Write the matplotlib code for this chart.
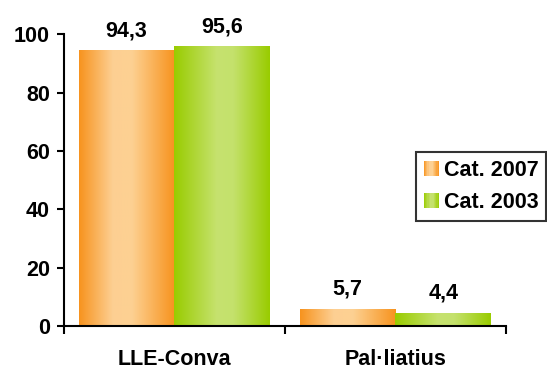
import numpy as np
import matplotlib
matplotlib.use("Agg")
import matplotlib.pyplot as plt
from matplotlib.colors import LinearSegmentedColormap
from matplotlib.legend_handler import HandlerBase
from matplotlib.patches import Rectangle

categories = ["LLE-Conva", "Pal·liatius"]
series_names = ["Cat. 2007", "Cat. 2003"]
cat2007 = [94.3, 5.7]
cat2003 = [95.6, 4.4]
value_labels_2007 = ["94,3", "5,7"]
value_labels_2003 = ["95,6", "4,4"]
yticks = [0, 20, 40, 60, 80, 100]

plt.rcParams['font.family'] = ['Liberation Sans', 'DejaVu Sans']
plt.rcParams['font.weight'] = 'bold'

orange_cmap = LinearSegmentedColormap.from_list(
    "og", [(0, "#F7931E"), (0.35, "#FDCF92"), (0.55, "#FDD193"), (1, "#F7931E")])
green_cmap = LinearSegmentedColormap.from_list(
    "gg", [(0, "#99CC00"), (0.45, "#C6E26F"), (0.62, "#C4E16C"), (1, "#99CC00")])

FS = 15.5

fig = plt.figure(figsize=(5.47, 3.71), dpi=100)
ax = fig.add_axes([0.117, 0.121, 0.808, 0.787])

x = np.arange(len(categories))
w = 0.434
b1 = ax.bar(x - w / 2, cat2007, w, color="none", edgecolor="none")
b2 = ax.bar(x + w / 2, cat2003, w, color="none", edgecolor="none")

grad = np.linspace(0, 1, 256).reshape(1, -1)
for bars, cmap in ((b1, orange_cmap), (b2, green_cmap)):
    for bar in bars:
        bx, by = bar.get_x(), bar.get_y()
        bw, bh = bar.get_width(), bar.get_height()
        ax.imshow(grad, cmap=cmap, extent=[bx, bx + bw, by, by + bh],
                  aspect="auto", zorder=2, interpolation="bilinear")

for bars, labels in ((b1, value_labels_2007), (b2, value_labels_2003)):
    for bar, lab in zip(bars, labels):
        ax.annotate(lab, (bar.get_x() + bar.get_width() / 2, bar.get_height()),
                    xytext=(0, 14.4), textcoords="offset points",
                    ha="center", va="center", fontsize=FS, fontweight="bold",
                    annotation_clip=False)

ax.set_xlim(-0.5, len(categories) - 0.5)
ax.set_ylim(0, 100)
ax.set_yticks(yticks)
ax.set_yticklabels([str(t) for t in yticks], fontsize=FS, fontweight="bold")
ax.set_xticks(np.arange(len(categories) + 1) - 0.5)
ax.set_xticklabels([])
ax.set_xticks(x, minor=True)
ax.set_xticklabels(categories, minor=True, fontsize=FS, fontweight="bold")
ax.tick_params(axis="x", which="minor", length=0, pad=16.5)
ax.tick_params(axis="x", which="major", length=6, width=1.5, direction="out")
ax.tick_params(axis="y", length=5, width=1.5, direction="out", pad=5)
for s in ("top", "right"):
    ax.spines[s].set_visible(False)
for s in ("left", "bottom"):
    ax.spines[s].set_linewidth(1.5)
    ax.spines[s].set_zorder(5)


class GradHandler(HandlerBase):
    def __init__(self, cmap):
        super().__init__()
        self.cmap = cmap

    def create_artists(self, legend, orig_handle, xdescent, ydescent,
                       width, height, fontsize, trans):
        n = 12
        arts = []
        for i in range(n):
            r = Rectangle((-xdescent + width * i / n, -ydescent), width / n + 0.3, height,
                          facecolor=self.cmap((i + 0.5) / n), edgecolor="none",
                          transform=trans)
            arts.append(r)
        return arts


h1 = Rectangle((0, 0), 1, 1)
h2 = Rectangle((0, 0), 1, 1)
leg = ax.legend([h1, h2], series_names,
                handler_map={h1: GradHandler(orange_cmap), h2: GradHandler(green_cmap)},
                loc="upper right", bbox_to_anchor=(0.999, 0.59),
                bbox_transform=fig.transFigure, fancybox=False, frameon=True,
                prop={"size": FS, "weight": "bold"}, handlelength=0.7,
                handleheight=0.7, handletextpad=0.25, borderpad=0.35,
                labelspacing=0.55, borderaxespad=0)
leg.get_frame().set_edgecolor("black")
leg.get_frame().set_linewidth(1.5)

fig.savefig("out.png", dpi=100)
